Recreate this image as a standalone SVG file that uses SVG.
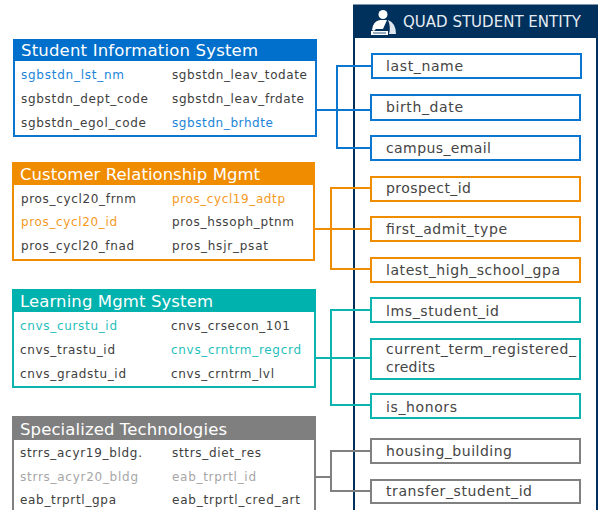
<svg xmlns="http://www.w3.org/2000/svg" width="603" height="510" viewBox="0 0 603 510">
<style>
text{font-family:"DejaVu Sans",Verdana,sans-serif}
.t{font-size:12px;fill:#404040}
.h{font-size:16.5px;fill:#fff}
.f{font-size:14px;fill:#454545}
.box{fill:#fff;stroke-width:2}
.c{fill:none;stroke-width:2}
.blue{stroke:#0a76d0}.blt{fill:#1b84d8}
.or{stroke:#f08c00}.ort{fill:#f59a1e}
.tl{stroke:#0cb4b0}.tlt{fill:#1fc0bc}
.gr{stroke:#808080}.grt{fill:#a6a6a6}
</style>
<rect width="603" height="510" fill="#fff"/>
<g id="entity">
<rect x="354" y="5.500" width="243" height="520" fill="#fff" stroke="#00305c" stroke-width="2"/>
<rect x="353" y="5" width="244" height="33" fill="#00305c"/>
<g fill="#fff"><circle cx="383" cy="14.500" r="4.500"/><path d="M372 30 Q373 21 380 20 L387 20 L383 29 L376 29 L374 31Z"/><path d="M388 20 Q396 23 396 34 L389 34 Q391 27 388 20Z" fill="#dfe6ee"/><path d="M371 31 L388 31 L388 35 L371 35Z"/><path d="M373 33H386" stroke="#00305c" stroke-width="0.800"/></g>
<text x="403" y="27" font-size="15" fill="#e6ecf2" textLength="178">QUAD STUDENT ENTITY</text>
</g>
<g id="connectors">
<path class="c blue" d="M316 110H372M372 66H337V148H372"/>
<path class="c or" d="M314 229H371M371 188H331V269H371"/>
<path class="c tl" d="M315 358H371M371 310H331V405H371"/>
<path class="c gr" d="M316 477H331M371 451H331V491H371"/>
</g>
<g id="sis">
<rect class="box blue" x="14" y="40" width="302" height="96"/>
<rect x="13" y="39" width="304" height="22" fill="#0070cc"/>
<text class="h" x="21" y="56" textLength="237">Student Information System</text>
<text class="t blt" x="21" y="79" textLength="103">sgbstdn_lst_nm</text>
<text class="t" x="172" y="79" textLength="135">sgbstdn_leav_todate</text>
<text class="t" x="21" y="103" textLength="127">sgbstdn_dept_code</text>
<text class="t" x="172" y="103" textLength="132">sgbstdn_leav_frdate</text>
<text class="t" x="21" y="127" textLength="125">sgbstdn_egol_code</text>
<text class="t blt" x="172" y="127" textLength="101">sgbstdn_brhdte</text>
</g>
<g id="crm">
<rect class="box or" x="13" y="163" width="301" height="97"/>
<rect x="12" y="162" width="303" height="23" fill="#f08c00"/>
<text class="h" x="20" y="180" textLength="240">Customer Relationship Mgmt</text>
<text class="t" x="21" y="203" textLength="115">pros_cycl20_frnm</text>
<text class="t ort" x="172" y="203" textLength="113">pros_cycl19_adtp</text>
<text class="t ort" x="21" y="226" textLength="96">pros_cycl20_id</text>
<text class="t" x="172" y="226" textLength="122">pros_hssoph_ptnm</text>
<text class="t" x="21" y="250" textLength="113">pros_cycl20_fnad</text>
<text class="t" x="172" y="250" textLength="96">pros_hsjr_psat</text>
</g>
<g id="lms">
<rect class="box tl" x="13" y="291" width="302" height="96"/>
<rect x="12" y="289" width="304" height="23" fill="#00b2ae"/>
<text class="h" x="20" y="307" textLength="193">Learning Mgmt System</text>
<text class="t tlt" x="20" y="330" textLength="97">cnvs_curstu_id</text>
<text class="t" x="171" y="330" textLength="119">cnvs_crsecon_101</text>
<text class="t" x="20" y="354" textLength="95">cnvs_trastu_id</text>
<text class="t tlt" x="171" y="354" textLength="130">cnvs_crntrm_regcrd</text>
<text class="t" x="20" y="378" textLength="106">cnvs_gradstu_id</text>
<text class="t" x="171" y="378" textLength="103">cnvs_crntrm_lvl</text>
</g>
<g id="spec">
<rect class="box gr" x="13" y="417" width="302" height="110"/>
<rect x="12" y="416" width="304" height="24" fill="#7f7f7f"/>
<text class="h" x="20" y="435" textLength="207">Specialized Technologies</text>
<text class="t" x="20" y="457" textLength="122">strrs_acyr19_bldg.</text>
<text class="t" x="172" y="457" textLength="89">sttrs_diet_res</text>
<text class="t grt" x="20" y="481" textLength="118">strrs_acyr20_bldg</text>
<text class="t grt" x="172" y="481" textLength="84">eab_trprtl_id</text>
<text class="t" x="20" y="504" textLength="96">eab_trprtl_gpa</text>
<text class="t" x="172" y="504" textLength="128">eab_trprtl_cred_art</text>
</g>
<g id="f-last_name"><rect class="box blue" x="372" y="54" width="209" height="24"/><text class="f" x="386" y="71" textLength="77">last_name</text></g>
<g id="f-birth_date"><rect class="box blue" x="371" y="95" width="209" height="25"/><text class="f" x="386" y="112" textLength="77">birth_date</text></g>
<g id="f-campus_email"><rect class="box blue" x="371" y="136" width="209" height="24"/><text class="f" x="386" y="153" textLength="105">campus_email</text></g>
<g id="f-prospect_id"><rect class="box or" x="371" y="177" width="209" height="24"/><text class="f" x="386" y="193" textLength="85">prospect_id</text></g>
<g id="f-first_admit_type"><rect class="box or" x="371" y="217" width="209" height="24"/><text class="f" x="386" y="234" textLength="121">first_admit_type</text></g>
<g id="f-latest_high_school_gpa"><rect class="box or" x="371" y="258" width="209" height="24"/><text class="f" x="386" y="275" textLength="174">latest_high_school_gpa</text></g>
<g id="f-lms_student_id"><rect class="box tl" x="371" y="298" width="209" height="24"/><text class="f" x="386" y="316" textLength="113">lms_student_id</text></g>
<g id="f-current_term"><rect class="box tl" x="371" y="339" width="209" height="40"/><text class="f" x="386" y="354" textLength="190">current_term_registered_</text><text class="f" x="386" y="372" textLength="49">credits</text></g>
<g id="f-is_honors"><rect class="box tl" x="371" y="394" width="209" height="24"/><text class="f" x="386" y="412" textLength="71">is_honors</text></g>
<g id="f-housing_building"><rect class="box gr" x="371" y="439" width="209" height="24"/><text class="f" x="386" y="456" textLength="126">housing_building</text></g>
<g id="f-transfer_student_id"><rect class="box gr" x="371" y="480" width="209" height="23"/><text class="f" x="386" y="496" textLength="146">transfer_student_id</text></g>
</svg>
